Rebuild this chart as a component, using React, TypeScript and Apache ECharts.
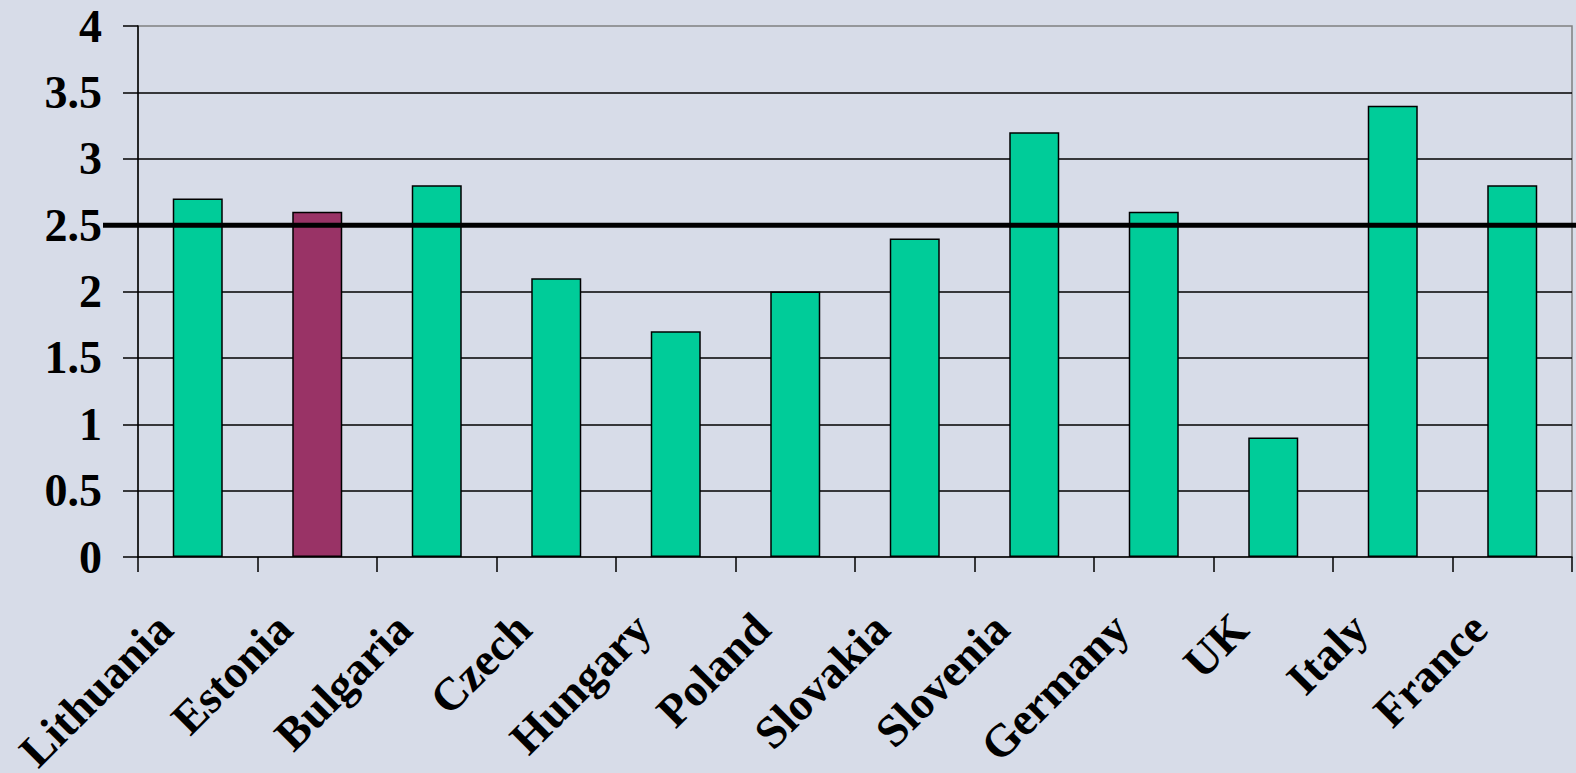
import React, { useEffect, useRef } from "react";
import * as echarts from "echarts";

const categories = ["Lithuania", "Estonia", "Bulgaria", "Czech", "Hungary", "Poland", "Slovakia", "Slovenia", "Germany", "UK", "Italy", "France"];
const values = [2.7, 2.6, 2.8, 2.1, 1.7, 2.0, 2.4, 3.2, 2.6, 0.9, 3.4, 2.8];
const highlighted = "Estonia";
const referenceValue = 2.5;
const yMin = 0;
const yMax = 4;
const yStep = 0.5;

const GREEN = "#00CC99";
const PLUM = "#993366";
const BG = "#D7DCE8";
const FONT = "'Liberation Serif', 'Times New Roman', serif";

export default function App() {
  const ref = useRef<HTMLDivElement>(null);
  useEffect(() => {
    if (!ref.current) return;
    const chart = echarts.init(ref.current, null, { renderer: "svg" });
    chart.setOption({
      animation: false,
      backgroundColor: BG,
      grid: {
        left: 138,
        top: 26,
        right: 4,
        bottom: 216,
        containLabel: false,
        outerBoundsMode: "none",
        show: true,
        borderColor: "#808080",
        borderWidth: 1.5,
        backgroundColor: "transparent",
      },
      xAxis: {
        type: "category",
        data: categories,
        axisLine: { show: true, lineStyle: { color: "#000", width: 1.5 } },
        axisTick: { show: true, alignWithLabel: false, length: 15, lineStyle: { color: "#000", width: 1.5 } },
        axisLabel: {
          rotate: 45,
          interval: 0,
          margin: 31,
          padding: [0, 47, 0, 0],
          color: "#000",
          fontFamily: FONT,
          fontWeight: "bold",
          fontSize: 46,
        },
        splitLine: { show: false },
      },
      yAxis: {
        type: "value",
        min: yMin,
        max: yMax,
        interval: yStep,
        axisLine: { show: true, lineStyle: { color: "#000", width: 1.5 } },
        axisTick: { show: true, length: 15, inside: false, lineStyle: { color: "#000", width: 1.5 } },
        axisLabel: {
          margin: 36,
          color: "#000",
          fontFamily: FONT,
          fontWeight: "bold",
          fontSize: 46,
        },
        splitLine: { show: true, showMaxLine: false, showMinLine: false, lineStyle: { color: "#000", width: 1.5 } },
      },
      series: [
        {
          type: "bar",
          barWidth: 50,
          data: values.map((v, i) => ({
            value: v,
            itemStyle: { color: categories[i] === highlighted ? PLUM : GREEN },
          })),
          itemStyle: { borderColor: "#000", borderWidth: 1.5 },
          z: 3,
        },
      ],
    });
    const y = chart.convertToPixel({ yAxisIndex: 0 }, referenceValue) as number;
    chart.setOption({
      graphic: [
        {
          type: "line",
          z: 100,
          shape: { x1: 103, y1: y, x2: 1576, y2: y },
          style: { stroke: "#000", lineWidth: 5 },
        },
      ],
    });
    return () => chart.dispose();
  }, []);
  return <div ref={ref} style={{ position: "fixed", left: 0, top: 0, width: 1576, height: 773 }} />;
}
